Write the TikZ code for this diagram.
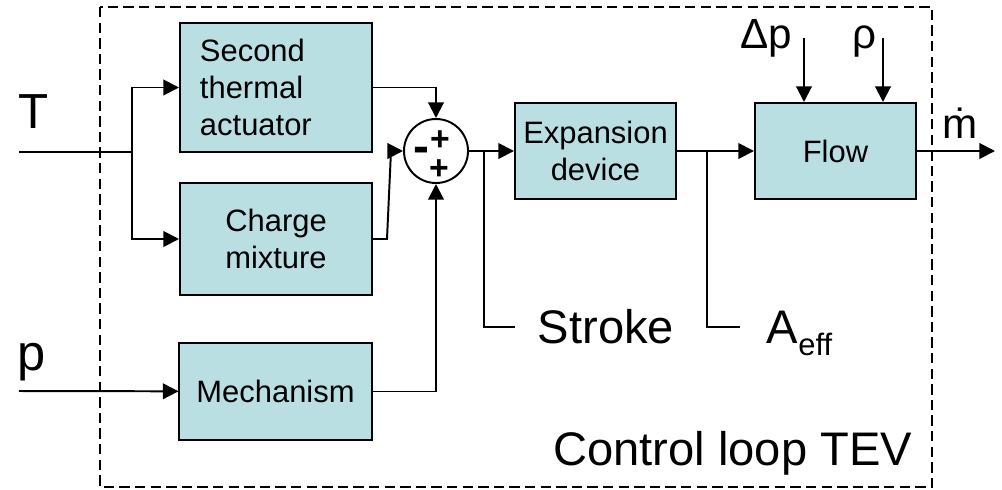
\documentclass[tikz,border=0pt]{standalone}
\usepackage{fontspec}
\setmainfont{Liberation Sans}
\usetikzlibrary{arrows.meta,positioning,calc}
\definecolor{boxfill}{RGB}{185,223,227}

\begin{document}
\begin{tikzpicture}[
  x=0.025cm, y=-0.025cm,
  line width=1.4pt,
  blk/.style={draw, fill=boxfill, align=center, inner sep=0pt,
              minimum width=4.8cm, font=\fontsize{22}{26.5}\selectfont},
  a/.style={-{Triangle[length=3.9mm, width=3.9mm]}},
  ln/.style={line width=1pt},
  big/.style={font=\fontsize{33.5}{38}\selectfont, inner sep=0pt},
  mid/.style={font=\fontsize{30}{34}\selectfont, inner sep=0pt},
  sgn/.style={font=\bfseries\fontsize{24}{24}\selectfont, inner sep=0pt, anchor=base}]

\useasboundingbox (0,0) rectangle (1002,489);

% ---------------- the control loop frame ---------------------------------
\draw[ln, dash pattern=on 2.6mm off 1.3mm] (100,7) rectangle (932,487);
\node[big, anchor=base east] (loop) at (913,465) {Control loop TEV};

% ---------------- the blocks ---------------------------------------------
\node[blk, minimum height=3.225cm, text width=3.8cm, align=left,
      inner xsep=0.5cm] (act) at (276,87.5) {Second\\thermal\\actuator};
\node[blk, minimum height=2.8cm] (mix) at (276,239) {Charge\\mixture};
\node[blk, minimum height=2.425cm] (mech) at (275.5,391.5) {Mechanism};
\node[blk, minimum width=4.025cm, minimum height=2.4cm] (exp) at (595.5,151)
      {Expansion\\device};
\node[blk, minimum width=4.025cm, minimum height=2.4cm] (flow) at (835.5,151)
      {Flow};

% ---------------- the summing point --------------------------------------
\node[draw, circle, fill=white, minimum size=1.6cm, inner sep=0pt] (sum)
      at (436,151) {};
\node[sgn] (sp1) at (440,150) {+};
\node[sgn] (sp2) at (439,179) {+};
\node[sgn, font=\bfseries\fontsize{34}{34}\selectfont] (sm) at (421,162) {-};

% ---------------- inputs T and p -----------------------------------------
\node[big, anchor=base, font=\fontsize{35}{38}\selectfont] (T) at (33.5,128) {T};
\node[big, anchor=base, font=\fontsize{36}{38}\selectfont] (p) at (32,370) {p};
\coordinate (tin) at (19,152);
\coordinate (tsplit) at (132,152);
\coordinate (pin) at (19,391);
\draw[ln] (tin) -- (tsplit);
\draw[a] (tsplit) |- (act);
\draw[a] (tsplit) |- (mix);
\draw[a] (pin) -- (mech);

% ---------------- into the summing point ---------------------------------
\coordinate (mk1) at (387,239);
\coordinate (mk2) at (391,151);
\draw[a] (act.east) -| (sum.north);
\draw[a] (mix.east) -- (mk1) -- (mk2) -- (sum.west);
\draw[a] (mech.east) -| (sum.south);

% ---------------- stroke and effective area ------------------------------
\node[big, anchor=west, inner xsep=5.5mm] (stroke) at (515,327) {Stroke};
\node[big, anchor=west, inner xsep=6.5mm] (aeff) at (740,327)
      {A\smash{\lower 9pt\hbox{\fontsize{22}{22}\selectfont eff}}};
\coordinate (sb) at (484,151);
\coordinate (ab) at (707,151);
\draw[a] (sum.east) -- (exp.west);
\draw[ln] (sb) |- (stroke.west);
\draw[a] (exp.east) -- (flow.west);
\draw[ln] (ab) |- (aeff.west);

% ---------------- flow inputs and output ---------------------------------
\node[mid, anchor=base] (dp) at (766,48) {Δp};
\node[mid, anchor=base] (rho) at (864,48) {ρ};
\node[mid, anchor=base] (mdot) at (960,138) {\.{m}};
\coordinate (dpin) at (804,38);
\coordinate (rhoin) at (883,38);
\coordinate (mout) at (995,151);
\draw[a] (dpin) -- (dpin |- flow.north);
\draw[a] (rhoin) -- (rhoin |- flow.north);
\draw[a] (flow.east) -- (mout);
\end{tikzpicture}
\end{document}
